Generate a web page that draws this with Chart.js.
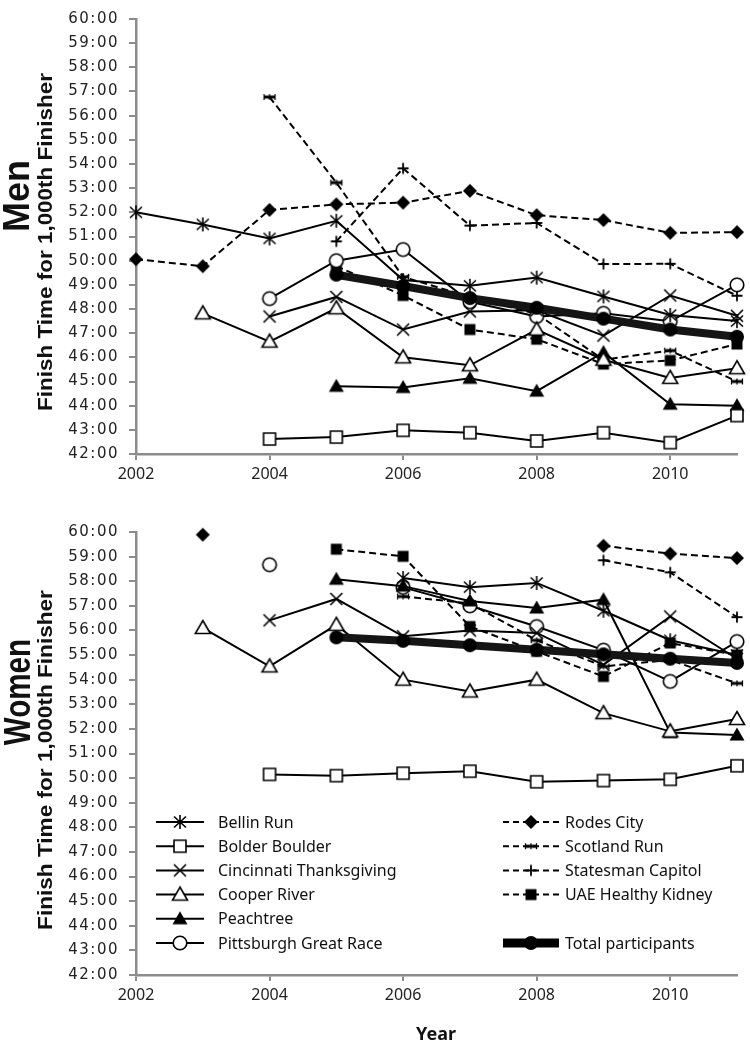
<!DOCTYPE html>
<html>
<head>
<meta charset="utf-8">
<script src="https://cdn.jsdelivr.net/npm/chart.js@4.4.1/dist/chart.umd.min.js"></script>
<style>
  body { margin: 0; background: #fff; }
  #wrap { position: relative; width: 750px; height: 1050px; overflow: hidden; }
  #wrap canvas { position: absolute; left: 0; }
  .vt { position: absolute; white-space: nowrap; font-family: "Liberation Sans Narrow", "Liberation Sans", Arial, sans-serif;
        font-weight: bold; color: #111; transform-origin: center; line-height: 1; }
  #yearLabel { position: absolute; left: 386px; width: 100px; top: 1021px; text-align: center; line-height: 24px;
        font: bold 18px "Noto Sans", "Open Sans", sans-serif; color: #111; }
</style>
</head>
<body>
<div id="wrap">
  <canvas id="menChart" width="750" height="490" style="top:0"></canvas>
  <canvas id="womenChart" width="750" height="560" style="top:490px"></canvas>
  <div class="vt" id="menLabel" style="font-size:36px">Men</div>
  <div class="vt" id="menTitle" style="font-size:20px">Finish Time for 1,000th Finisher</div>
  <div class="vt" id="womenLabel" style="font-size:36px">Women</div>
  <div class="vt" id="womenTitle" style="font-size:20px">Finish Time for 1,000th Finisher</div>
  <div id="yearLabel">Year</div>
</div>
<script>
// --- data (minutes) ---
const years = [2002, 2003, 2004, 2005, 2006, 2007, 2008, 2009, 2010, 2011];
const xTickYears = [2002, 2004, 2006, 2008, 2010];

const raceNames = ['Bellin Run', 'Bolder Boulder', 'Cincinnati Thanksgiving', 'Cooper River', 'Peachtree',
  'Pittsburgh Great Race', 'Rodes City', 'Scotland Run', 'Statesman Capitol', 'UAE Healthy Kidney', 'Total participants'];

// men
const menBellin      = [52.0, 51.5, 50.92, 51.65, 49.2, 48.96, 49.3, 48.52, 47.75, 47.5];
const menBolder      = [null, null, 42.62, 42.7, 42.98, 42.88, 42.54, 42.88, 42.47, 43.59];
const menCincinnati  = [null, null, 47.69, 48.5, 47.15, 47.9, 47.95, 46.9, 48.56, 47.72];
const menCooper      = [null, 47.82, 46.65, 48.03, 46.0, 45.67, 47.15, 45.9, 45.15, 45.55];
const menPeachtree   = [null, null, null, 44.8, 44.75, 45.13, 44.6, 46.2, 44.06, 44.0];
const menPittsburgh  = [null, null, 48.43, 50.0, 50.46, 48.3, 47.69, 47.82, 47.49, 49.0];
const menRodes       = [50.06, 49.77, 52.1, 52.33, 52.4, 52.89, 51.88, 51.68, 51.15, 51.18];
const menScotland    = [null, null, 56.77, 53.23, 49.33, 48.5, 47.8, 45.9, 46.28, 45.0];
const menStatesman   = [null, null, null, 50.8, 53.82, 51.45, 51.56, 49.86, 49.87, 48.55];
const menUAE         = [null, null, null, 49.77, 48.56, 47.15, 46.75, 45.72, 45.87, 46.55];
const menTotal       = [null, null, null, 49.42, 48.95, 48.45, 48.05, 47.6, 47.15, 46.85];

// women
const womenBellin     = [null, null, null, null, 58.13, 57.76, 57.93, 56.8, 55.6, 55.0];
const womenBolder     = [null, null, 50.15, 50.1, 50.2, 50.28, 49.85, 49.9, 49.95, 50.5];
const womenCincinnati = [null, null, 56.41, 57.28, 55.76, 56.0, 55.9, 54.6, 56.57, 54.85];
const womenCooper     = [null, 56.1, 54.54, 56.23, 54.0, 53.52, 54.0, 52.64, 51.9, 52.4];
const womenPeachtree  = [null, null, null, 58.08, 57.8, 57.2, 56.91, 57.25, 51.85, 51.75];
const womenPittsburgh = [null, null, 58.67, null, 57.75, 57.0, 56.16, 55.2, 53.93, 55.55];
const womenRodes      = [null, 59.89, null, null, null, null, null, 59.44, 59.12, 58.94];
const womenScotland   = [null, null, null, null, 57.38, 57.1, 55.6, 54.54, 54.8, 53.85];
const womenStatesman  = [null, null, null, null, null, null, null, 58.85, 58.36, 56.54];
const womenUAE        = [null, null, null, 59.3, 59.01, 56.16, 55.15, 54.13, 55.49, 55.0];
const womenTotal      = [null, null, null, 55.72, 55.58, 55.4, 55.22, 55.03, 54.85, 54.68];

const menSeries = [menBellin, menBolder, menCincinnati, menCooper, menPeachtree, menPittsburgh,
  menRodes, menScotland, menStatesman, menUAE, menTotal];
const womenSeries = [womenBellin, womenBolder, womenCincinnati, womenCooper, womenPeachtree, womenPittsburgh,
  womenRodes, womenScotland, womenStatesman, womenUAE, womenTotal];

// --- styling ---
const markerKinds = ['asterisk', 'openSquare', 'x', 'openTriangle', 'triangle', 'openCircle',
  'diamond', 'bar', 'plus', 'square', 'dot'];
const dashedSeries = [false, false, false, false, false, false, true, true, true, true, false];
const legendCol = [0, 0, 0, 0, 0, 0, 1, 1, 1, 1, 1];
const legendRow = [0, 1, 2, 3, 4, 5, 0, 1, 2, 3, 5];

function makeMarker(kind) {
  const c = document.createElement('canvas');
  c.width = c.height = 20;
  const g = c.getContext('2d');
  const m = 10;
  g.strokeStyle = '#000';
  g.fillStyle = '#000';
  g.lineWidth = 1.6;
  g.beginPath();
  switch (kind) {
    case 'asterisk':
      g.moveTo(m, m - 7); g.lineTo(m, m + 7);
      g.moveTo(m - 6, m - 5.5); g.lineTo(m + 6, m + 5.5);
      g.moveTo(m + 6, m - 5.5); g.lineTo(m - 6, m + 5.5);
      g.stroke();
      break;
    case 'x':
      g.moveTo(m - 6, m - 6); g.lineTo(m + 6, m + 6);
      g.moveTo(m + 6, m - 6); g.lineTo(m - 6, m + 6);
      g.stroke();
      break;
    case 'plus':
      g.moveTo(m, m - 5.5); g.lineTo(m, m + 5.5);
      g.moveTo(m - 5.5, m); g.lineTo(m + 5.5, m);
      g.lineWidth = 1.8;
      g.stroke();
      break;
    case 'openSquare':
      g.rect(m - 6, m - 6, 12, 12);
      g.fillStyle = '#fff'; g.fill(); g.stroke();
      break;
    case 'square':
      g.rect(m - 5.5, m - 5.5, 11, 11);
      g.fill();
      break;
    case 'openTriangle':
    case 'triangle':
      g.moveTo(m, m - 7.5); g.lineTo(m + 7.5, m + 5.5); g.lineTo(m - 7.5, m + 5.5); g.closePath();
      if (kind === 'openTriangle') { g.fillStyle = '#fff'; g.fill(); g.stroke(); } else { g.fill(); }
      break;
    case 'openCircle':
      g.arc(m, m, 6.8, 0, Math.PI * 2);
      g.fillStyle = '#fff'; g.fill(); g.stroke();
      break;
    case 'dot':
      g.arc(m, m, 7, 0, Math.PI * 2);
      g.fill();
      break;
    case 'diamond':
      g.moveTo(m, m - 7); g.lineTo(m + 7, m); g.lineTo(m, m + 7); g.lineTo(m - 7, m); g.closePath();
      g.fill();
      break;
    case 'bar':
      g.rect(m - 6, m - 1.5, 12, 3);
      g.fill();
      g.beginPath();
      g.lineWidth = 1.2;
      g.moveTo(m - 5.5, m - 3); g.lineTo(m - 5.5, m + 3);
      g.moveTo(m + 5.5, m - 3); g.lineTo(m + 5.5, m + 3);
      g.moveTo(m, m - 3); g.lineTo(m, m + 3);
      g.stroke();
      break;
  }
  return c;
}

const markers = markerKinds.map(makeMarker);

function buildDatasets(seriesList) {
  return seriesList.map((vals, i) => {
    const isTotal = i === seriesList.length - 1;
    return {
      label: raceNames[i],
      data: years.map((yr, j) => ({ x: yr, y: vals[j] })),
      borderColor: isTotal ? '#151515' : '#000',
      borderWidth: isTotal ? 8 : 2,
      borderDash: dashedSeries[i] ? [7, 4] : [],
      pointStyle: markers[i],
      pointRadius: 6,
      pointHoverRadius: 6,
      fill: false,
      tension: 0,
      spanGaps: false,
      clip: false,
      order: isTotal ? -1 : i,
      legendIndex: i
    };
  });
}

function fmtMinutes(v) {
  const mins = Math.floor(v + 1e-9);
  const secs = Math.round((v - mins) * 60);
  return mins + ':' + String(secs).padStart(2, '0');
}

// wider spacing for the y tick labels only (x tick labels are drawn after the datasets)
const tickSpacing = {
  id: 'tickSpacing',
  beforeDraw(chart) { chart.ctx.letterSpacing = '1.5px'; },
  beforeDatasetsDraw(chart) { chart.ctx.letterSpacing = '0px'; }
};

// two-column legend drawn inside the women panel
const twoColLegend = {
  id: 'twoColLegend',
  afterDraw(chart, args, opts) {
    if (!opts.show) return;
    const ctx = chart.ctx;
    const colX = [156, 503];
    const sampleLen = [48, 56];
    const rowY0 = 332, rowStep = 24.2;
    ctx.save();
    ctx.letterSpacing = '0px';
    chart.data.datasets.forEach(ds => {
      const i = ds.legendIndex;
      const col = legendCol[i];
      const x0 = colX[col];
      const len = sampleLen[col];
      const y = rowY0 + legendRow[i] * rowStep;
      ctx.beginPath();
      ctx.strokeStyle = '#000';
      ctx.lineWidth = ds.borderWidth === 8 ? 9 : 2;
      ctx.setLineDash(ds.borderDash.length ? [6, 4] : []);
      ctx.moveTo(x0, y);
      ctx.lineTo(x0 + len, y);
      ctx.stroke();
      ctx.setLineDash([]);
      const mk = ds.pointStyle;
      ctx.drawImage(mk, x0 + len / 2 - mk.width / 2, y - mk.height / 2);
      ctx.fillStyle = '#111';
      ctx.font = '16px "Noto Sans", "Open Sans", sans-serif';
      ctx.textBaseline = 'middle';
      ctx.fillText(ds.label, x0 + len + 14 - (col ? 8 : 0), y + 1);
    });
    ctx.restore();
  }
};

function makeChart(canvasId, seriesList, isBottom) {
  const canvas = document.getElementById(canvasId);
  const plotTop = isBottom ? 42 : 8;
  const plotBottom = isBottom ? 485 : 454;
  return new Chart(canvas.getContext('2d'), {
    type: 'line',
    data: { datasets: buildDatasets(seriesList) },
    plugins: [tickSpacing, twoColLegend],
    options: {
      responsive: false,
      animation: false,
      devicePixelRatio: 1,
      events: [],
      layout: { autoPadding: false, padding: { left: 0, right: 13, top: plotTop, bottom: 0 } },
      plugins: {
        legend: { display: false },
        tooltip: { enabled: false },
        twoColLegend: { show: isBottom }
      },
      scales: {
        x: {
          type: 'linear',
          min: 2002,
          max: 2011,
          afterBuildTicks: s => { s.ticks = xTickYears.map(v => ({ value: v })); },
          afterFit: s => { s.height = canvas.height - plotBottom; },
          border: { color: '#8c8c8c', width: 2.5 },
          grid: { drawOnChartArea: false, drawTicks: true, tickLength: 6, color: '#8c8c8c', lineWidth: 2 },
          ticks: {
            z: 1,
            color: '#222',
            padding: 5,
            maxRotation: 0,
            font: { family: '"Noto Sans", "Open Sans", sans-serif', size: 16 },
            callback: v => String(v)
          }
        },
        y: {
          min: 42,
          max: 60,
          afterFit: s => { s.width = 136; },
          border: { color: '#8c8c8c', width: 2.5 },
          grid: { drawOnChartArea: false, drawTicks: true, tickLength: 7, color: '#8c8c8c', lineWidth: 2 },
          ticks: {
            stepSize: 1,
            color: '#222',
            padding: 10,
            font: { family: '"DejaVu Sans", Verdana, sans-serif', size: 15 },
            callback: v => fmtMinutes(v)
          }
        }
      }
    }
  });
}

makeChart('menChart', menSeries, false);
makeChart('womenChart', womenSeries, true);

// rotated panel labels and axis titles
function placeVertical(id, cx, cy, len) {
  const el = document.getElementById(id);
  const w = el.offsetWidth, h = el.offsetHeight;
  el.style.left = (cx - w / 2) + 'px';
  el.style.top = (cy - h / 2) + 'px';
  el.style.transform = 'rotate(-90deg) scaleX(' + (len / w) + ')';
}
placeVertical('menLabel', 17, 196, 72);
placeVertical('menTitle', 45, 242, 338);
placeVertical('womenLabel', 17, 692, 106);
placeVertical('womenTitle', 45, 760, 340);
</script>
</body>
</html>
